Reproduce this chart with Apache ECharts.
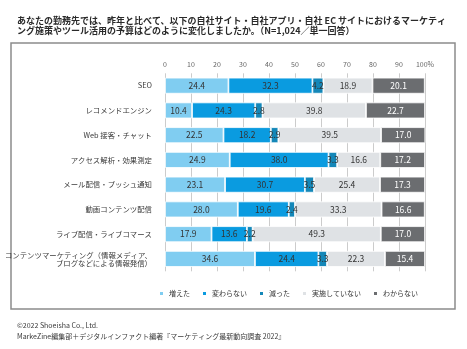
<!DOCTYPE html>
<html>
<head>
<meta charset="utf-8">
<script src="https://cdn.jsdelivr.net/npm/echarts@6/dist/echarts.min.js"></script>
<style>
  html, body { margin: 0; padding: 0; background: #ffffff; }
  #chart { width: 467px; height: 349px; }
</style>
</head>
<body>
<div id="chart"></div>
<script>
// Survey items (top to bottom)
const categories = [
  'SEO',
  'レコメンドエンジン',
  'Web 接客・チャット',
  'アクセス解析・効果測定',
  'メール配信・プッシュ通知',
  '動画コンテンツ配信',
  'ライブ配信・ライブコマース',
  'コンテンツマーケティング（情報メディア、\nブログなどによる情報発信）'
];

// Answer shares in percent, one array per answer
const increased      = [24.4, 10.4, 22.5, 24.9, 23.1, 28.0, 17.9, 34.6];
const unchanged      = [32.3, 24.3, 18.2, 38.0, 30.7, 19.6, 13.6, 24.4];
const decreased      = [4.2, 2.8, 2.9, 3.3, 3.5, 2.4, 2.2, 3.3];
const notImplemented = [18.9, 39.8, 39.5, 16.6, 25.4, 33.3, 49.3, 22.3];
const unknown        = [20.1, 22.7, 17.0, 17.2, 17.3, 16.6, 17.0, 15.4];

const answerNames = ['増えた', '変わらない', '減った', '実施していない', 'わからない'];
const answerValues = [increased, unchanged, decreased, notImplemented, unknown];

// Axis ticks
const tickValues = [0, 10, 20, 30, 40, 50, 60, 70, 80, 90, 100];
const tickLabels = ['0', '10', '20', '30', '40', '50', '60', '70', '80', '90', '100%'];

const titleText = 'あなたの勤務先では、昨年と比べて、以下の自社サイト・自社アプリ・自社 EC サイトにおけるマーケティ\n' +
                  'ング施策やツール活用の予算はどのように変化しましたか。（N=1,024／単一回答）';
const creditLine1 = '©2022 Shoeisha Co., Ltd.';
const creditLine2 = 'MarkeZine編集部＋デジタルインファクト編著『マーケティング最新動向調査 2022』';

const FONT = '"Noto Sans CJK JP", "Noto Sans", sans-serif';
const colors = ['#80cdf1', '#0a9be0', '#1487b8', '#dfe2e5', '#6b6d70'];
const labelColors = ['#333333', '#333333', '#333333', '#333333', '#ffffff'];

const chart = echarts.init(document.getElementById('chart'), null, { renderer: 'canvas' });

const series = answerNames.map((name, i) => ({
  name: name,
  type: 'bar',
  stack: 'total',
  barWidth: 16,
  data: answerValues[i],
  itemStyle: { color: colors[i], borderColor: '#ffffff', borderWidth: 0.8 },
  label: {
    show: true,
    position: 'inside',
    fontFamily: FONT,
    fontSize: 8.5,
    color: labelColors[i],
    formatter: p => p.value.toFixed(1)
  },
  emphasis: { disabled: true },
  animation: false
}));

chart.setOption({
  backgroundColor: '#ffffff',
  animation: false,
  textStyle: { fontFamily: FONT },
  title: [
    {
      text: titleText,
      left: 12, top: 10.5,
      textStyle: { fontFamily: FONT, fontSize: 9, fontWeight: 'bold', color: '#2a2a2a', lineHeight: 10 }
    },
    {
      text: creditLine1 + '\n' + creditLine2,
      left: 12, top: 315,
      textStyle: { fontFamily: FONT, fontSize: 7, fontWeight: 'normal', color: '#3a3a3a', lineHeight: 11 }
    }
  ],
  graphic: [
    {
      type: 'rect',
      shape: { x: 11, y: 43, width: 444, height: 266 },
      style: { fill: 'none', stroke: '#8c8c8c', lineWidth: 1.5 },
      silent: true
    }
  ],
  legend: {
    data: answerNames,
    left: 153, top: 285,
    icon: 'rect',
    itemWidth: 5, itemHeight: 5,
    itemGap: 11,
    textStyle: { fontFamily: FONT, fontSize: 7, color: '#333333' },
    selectedMode: false
  },
  grid: { left: 165, width: 260, top: 73.3, height: 198 },
  xAxis: {
    type: 'value',
    position: 'top',
    min: 0, max: 100, interval: 10,
    axisLine: { show: false },
    axisTick: { show: false },
    axisLabel: {
      margin: 5,
      fontFamily: FONT,
      fontSize: 7,
      color: '#666666',
      formatter: v => tickLabels[tickValues.indexOf(v)]
    },
    splitLine: { show: true, lineStyle: { color: '#cccccc', width: 1 } }
  },
  yAxis: {
    type: 'category',
    data: categories,
    inverse: true,
    axisLine: { show: false },
    axisTick: { show: false },
    axisLabel: {
      margin: 13,
      fontFamily: FONT,
      fontSize: 7.4,
      lineHeight: 8,
      color: '#3a3a3a',
      align: 'right'
    }
  },
  series: series
});
</script>
</body>
</html>
